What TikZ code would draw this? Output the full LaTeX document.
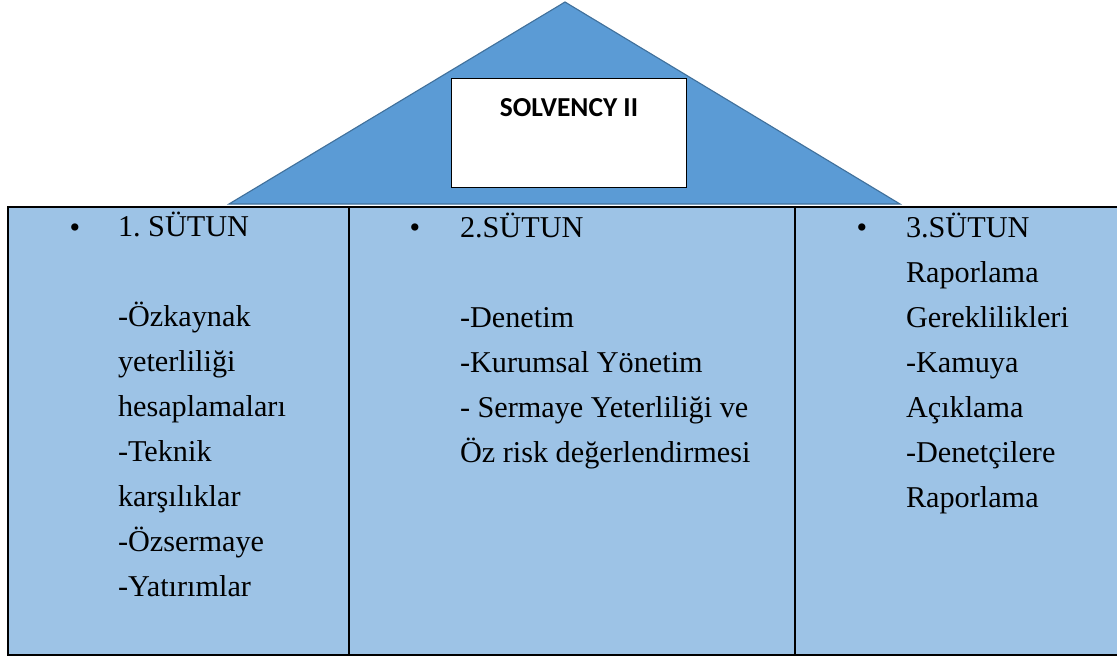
\documentclass[tikz,border=0pt]{standalone}
\usepackage{fontspec}
\setmainfont{Liberation Serif}
\newfontfamily\headfont{Carlito}
\usetikzlibrary{positioning}
\definecolor{roofblue}{RGB}{91,155,213}
\definecolor{roofedge}{RGB}{65,113,156}
\definecolor{pillarblue}{RGB}{157,195,230}
\frenchspacing

\begin{document}
\begin{tikzpicture}[x=0.025cm,y=-0.025cm]
		\tikzstyle{roof} = [fill=roofblue, draw=roofedge, line width=0.8pt, line join=miter]
		\tikzstyle{titlebox} = [draw=black, fill=white, line width=0.6pt, minimum width=5.875cm, minimum height=2.725cm]
		\tikzstyle{pillar} = [draw=black, fill=pillarblue, line width=1.4pt]
		\tikzstyle{item} = [inner sep=0, outer sep=0, align=left, anchor=base west, font=\fontsize{21.5}{32}\selectfont]
		\tikzstyle{dot} = [inner sep=0, outer sep=0, anchor=base, font=\fontsize{21.5}{32}\selectfont]
		\useasboundingbox (0,0) rectangle (1117,656);
		% roof
		\draw [roof] (565,2) -- (900,204) -- (229,204) -- cycle;
		\node [titlebox] (v1) at (568.5,132.5) {};
		\node [inner sep=0, font=\headfont\bfseries\fontsize{19.5}{22}\selectfont] (v2) at (569,108) {SOLVENCY II};
		% pillars
		\draw [pillar] (8,207) rectangle (349,655);
		\draw [pillar] (349,207) rectangle (795,655);
		\draw [pillar] (795,207) rectangle (1130,655);
		\node [dot] (v3) at (75,237) {\textbullet};
		\node [dot] (v4) at (415,237) {\textbullet};
		\node [dot] (v5) at (862,237) {\textbullet};
		% base anchor = last line, 45 per line
		\node [item] (v6) at (118,596) {1. SÜTUN\\ \\-Özkaynak\\yeterliliği\\hesaplamaları\\-Teknik\\karşılıklar\\-Özsermaye\\-Yatırımlar};
		\node [item] (v7) at (460,462) {2.SÜTUN\\ \\-Denetim\\-Kurumsal Yönetim\\- Sermaye Yeterliliği ve\\Öz risk değerlendirmesi};
		\node [item] (v8) at (906,507) {3.SÜTUN\\Raporlama\\Gereklilikleri\\-Kamuya\\Açıklama\\-Denetçilere\\Raporlama};
\end{tikzpicture}
\end{document}
